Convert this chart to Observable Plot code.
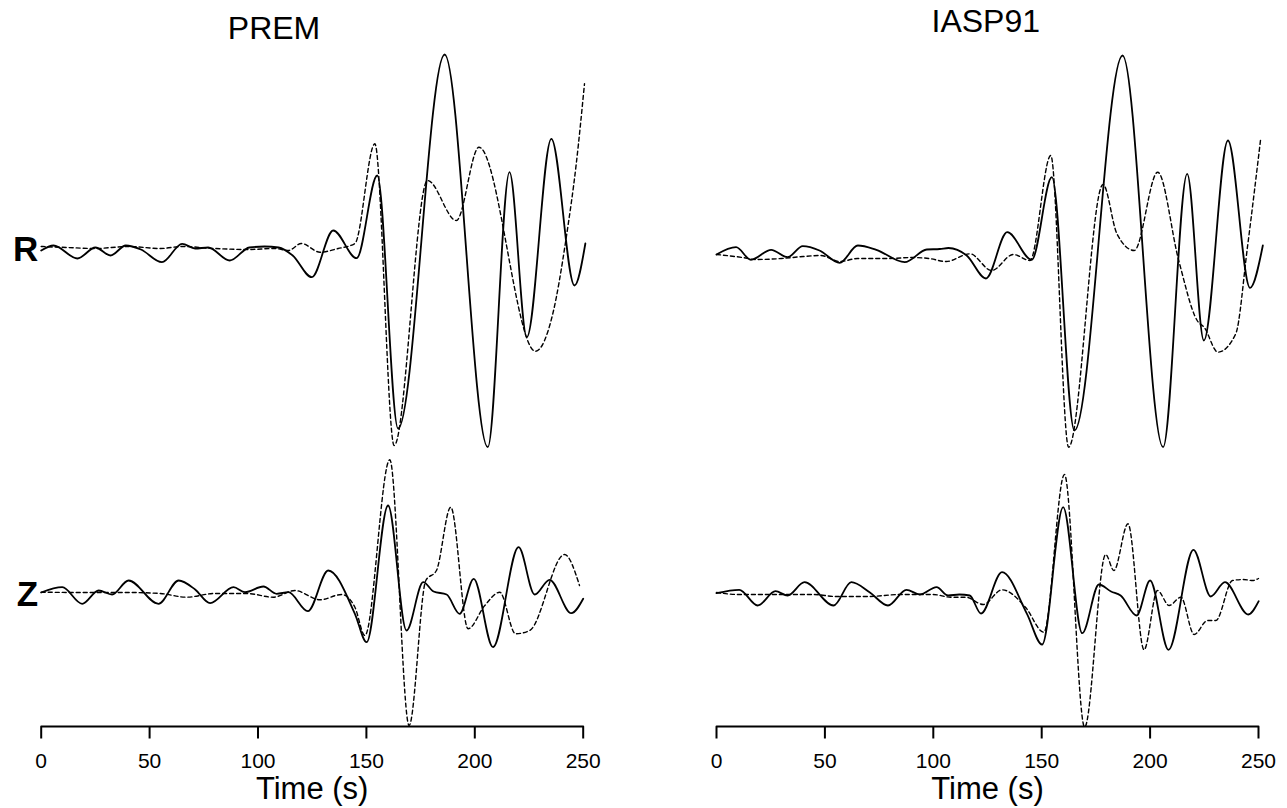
<!DOCTYPE html>
<html>
<head>
<meta charset="utf-8">
<script src="https://cdn.jsdelivr.net/npm/d3@7"></script>
<script src="https://cdn.jsdelivr.net/npm/@observablehq/plot@0.6"></script>
<style>
  html, body { margin: 0; padding: 0; background: #fff; }
  #chart { width: 1287px; height: 808px; }
</style>
</head>
<body>
<div id="chart"></div>
<script>
// ---- data (time in s, amplitude in arbitrary units; up = positive) ----
const models = ["PREM", "IASP91"];
const components = ["R", "Z"];
const timeTicks = [0, 50, 100, 150, 200, 250];

// PREM, radial component
const premRSolid = [[0,-3],[5.7,2],[16.7,-11],[25,0],[32,-8],[39,2],[46,-2],[55.7,-14.7],[65,3.7],[71,-1],[77,0],[87,-13],[96,0],[103,1],[109.5,0],[116,-8],[124.8,-29.7],[134.7,17],[145.5,-10.7],[155,72],[164.6,-181],[186.1,193],[206,-199.7],[216,75.3],[224,-89.7],[235.3,108.7],[246,-38],[251,4]];
const premRDashed = [[0,1],[12,0],[25,-1],[40,1],[55,-1],[65,1],[80,-1],[95,-2],[108,-1],[114,-3],[120,4],[128.6,-4.7],[137,-1],[144.7,4],[153.9,103.7],[162.8,-198],[178.2,67],[191.5,27],[201.9,100.3],[228,-103.7],[236,-66],[242.2,10.3],[246.8,83.7],[250.6,163.7]];
// PREM, vertical component
const premZSolid = [[0,0],[9.7,5.3],[18.9,-11.3],[26.5,2],[32.7,-2],[40.3,12],[54.1,-11.3],[63.4,12],[71,3],[77.9,-10.7],[88.7,5.3],[94,0.3],[102.5,6],[108.6,-1.3],[114,0.3],[123,-18.7],[132.4,22],[144.7,-21.3],[150.1,-49.7],[160,87],[168.5,-38],[176.2,10.3],[181,1],[187,-2],[193,-21.3],[199.5,13.7],[208.4,-54.7],[220.2,45.3],[227.6,-2],[234.5,12.7],[244.5,-20.7],[250,-6.3]];
const premZDashed = [[0,0.3],[20,0],[40,0],[55,-1],[67,-4.7],[80,-1],[95,-1],[107,-4.7],[117,2],[128.6,-7.3],[138.6,-2],[144.7,-14.7],[149.3,-43],[160.8,132.7],[169.7,-133],[177.4,12],[182.3,22],[188.9,85.3],[196.9,-36.3],[204.6,-13],[211.5,0.3],[218.8,-41.3],[225.3,-38],[241.4,38],[248.3,7]];
// IASP91, radial component
const iaspRSolid = [[0,-7],[9,0.3],[15.9,-12.3],[25.2,-2.3],[32.8,-9.7],[39.8,1.3],[47.5,-3],[56.8,-15.3],[65.2,2],[73.7,-2.3],[86.8,-14.7],[97,-2],[103,-1.5],[107,-0.5],[115.4,-8],[124.3,-31],[134.1,15.3],[145.4,-12.3],[154.7,70.3],[165.1,-183],[187.3,192],[206,-199.7],[217.1,73.7],[224.8,-93],[235.9,107],[246.1,-40.3],[252,2]];
const iaspRDashed = [[0,-7],[12,-10],[18,-12],[30,-11],[40,-9],[48,-8],[57,-14],[65,-11],[80,-11],[90,-10],[98,-11],[106,-14],[116.9,-6.3],[126.9,-23],[136.9,-7],[144.6,-13],[154.2,92],[162.4,-199.7],[178.3,63],[184.7,13.7],[192.7,-3],[203.5,75.3],[213.2,-13],[221.7,-73],[225,-80],[231.3,-104.7],[239.5,-86.3],[244.9,0.3],[251,108.7]];
// IASP91, vertical component
const iaspZSolid = [[0,-0.7],[10.5,2.7],[19,-13],[27.2,1.3],[32.8,-3],[40.6,10.3],[54,-13],[62.2,10.3],[70.6,0.3],[79.1,-13],[87.6,2.7],[93.8,-2],[101.5,5.3],[106.8,-3],[112,-2],[116.8,-3],[122,-21],[131.7,20.3],[143.2,-21.3],[150.2,-52],[159.9,85.3],[168.7,-40.7],[176.4,8],[182,1],[186.4,-3],[193.8,-23],[200,12],[208.5,-57.3],[220,42.7],[228,-4],[234.5,10.3],[245.3,-22],[250.1,-8.7]];
const iaspZDashed = [[0,0],[10,-2],[30,-2],[45,-2],[55,-4],[70,-4],[85,-2],[100,-2],[108,-4.7],[115,-4.7],[123,-12],[131.7,2.7],[142.5,-14.7],[151,-39.7],[160.5,118],[169.8,-134.7],[179.5,38],[183.3,22],[189.8,68.7],[197.2,-57.3],[203.4,2],[208.8,-13],[214.2,-4.7],[220.3,-42],[226.5,-28],[230.3,-28],[238,12],[243,13],[247.3,12],[250,14]];

// ---- layout ----
const traceOffset = {R: 0, Z: -345};   // vertical stacking of the two components
const axisLevel = -479;                // level of the time-axis line
const tickLen = 12;
const yDomain = [axisLevel - tickLen, 247];  // 1 unit = 1 px over a 738 px frame

const traces = [
  {model: "PREM", comp: "R", style: "solid", pts: premRSolid},
  {model: "PREM", comp: "R", style: "dashed", pts: premRDashed},
  {model: "PREM", comp: "Z", style: "solid", pts: premZSolid},
  {model: "PREM", comp: "Z", style: "dashed", pts: premZDashed},
  {model: "IASP91", comp: "R", style: "solid", pts: iaspRSolid},
  {model: "IASP91", comp: "R", style: "dashed", pts: iaspRDashed},
  {model: "IASP91", comp: "Z", style: "solid", pts: iaspZSolid},
  {model: "IASP91", comp: "Z", style: "dashed", pts: iaspZDashed}
];
const rows = traces.flatMap(tr => tr.pts.map(([t, a]) => ({
  model: tr.model, comp: tr.comp, style: tr.style, key: tr.model + tr.comp,
  t, v: a + traceOffset[tr.comp]
})));

// axis as one polyline per panel: along the axis, dipping down at each tick
const axisPath = models.flatMap(m => timeTicks.flatMap(t => [
  {model: m, t, v: axisLevel},
  {model: m, t, v: axisLevel - tickLen},
  {model: m, t, v: axisLevel}
]));

const chart = Plot.plot({
  width: 1287,
  height: 808,
  marginLeft: 40.7,
  marginRight: 29,
  marginTop: 0,
  marginBottom: 70,
  style: {fontFamily: "'Liberation Sans', Arial, Helvetica, sans-serif", background: "#fff", color: "#000", overflow: "visible"},
  fx: {domain: models, axis: null, paddingInner: 0.1974, paddingOuter: 0, round: false},
  x: {domain: [0, 250], axis: null},
  y: {domain: yDomain, axis: null},
  marks: [
    // time axis: line with downward ticks, labels, title
    Plot.line(axisPath, {fx: "model", x: "t", y: "v", stroke: "#000", strokeWidth: 2, strokeLinejoin: "miter"}),
    Plot.text(timeTicks, {x: d => d, text: d => String(d), frameAnchor: "bottom", lineAnchor: "middle", dy: 23, fontSize: 21}),
    Plot.text(["Time (s)"], {x: 125, text: d => d, frameAnchor: "bottom", lineAnchor: "middle", dy: 51, fontSize: 31}),
    // seismograms
    Plot.line(rows.filter(d => d.style === "dashed"), {fx: "model", x: "t", y: "v", z: "key", curve: "monotone-x", stroke: "#000", strokeWidth: 1.4, strokeDasharray: "4,3"}),
    Plot.line(rows.filter(d => d.style === "solid"), {fx: "model", x: "t", y: "v", z: "key", curve: "monotone-x", stroke: "#000", strokeWidth: 1.8}),
    // panel titles and component labels
    Plot.text(["PREM"], {fx: d => d, text: d => d, x: 107.4, y: 218.7, fontSize: 32}),
    Plot.text(["IASP91"], {fx: d => d, text: d => d, x: 124.2, y: 226.2, fontSize: 32}),
    Plot.text(components, {fx: () => "PREM", text: d => d, x: 0, y: c => traceOffset[c] - 2.5, textAnchor: "end", dx: -3, fontWeight: "bold", fontSize: 35})
  ]
});
document.getElementById("chart").appendChild(chart);
</script>
</body>
</html>
